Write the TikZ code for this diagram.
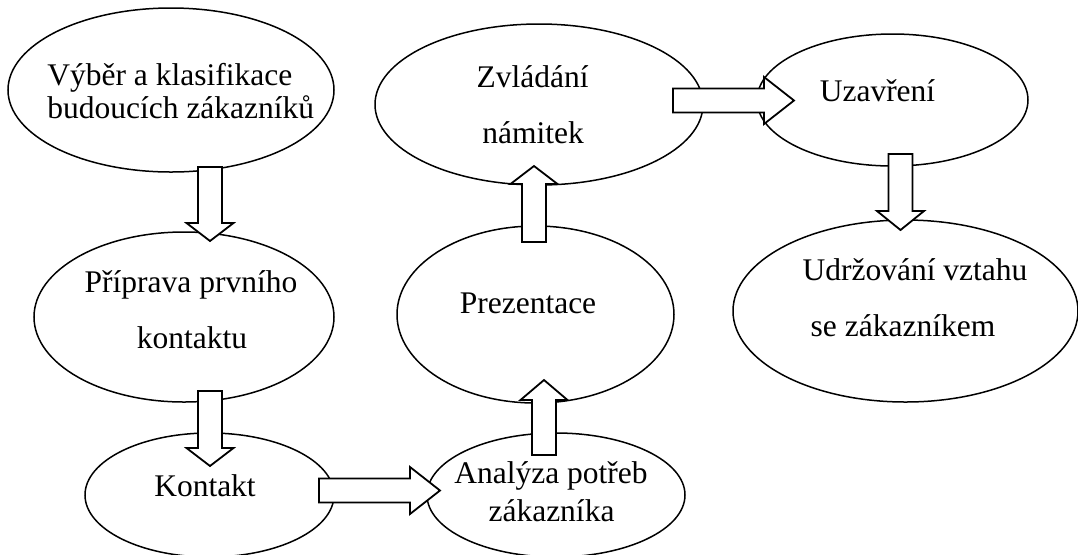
\documentclass[tikz,border=0pt]{standalone}
\usepackage{fontspec}
\setmainfont{Liberation Serif}
\usetikzlibrary{shapes.geometric,calc}

\tikzset{
  stage/.style={ellipse, draw, line width=0.75pt, inner sep=0pt},
  txt/.style={inner sep=0pt, font=\fontsize{15.75}{19}\selectfont},
  blockarr/.style={draw, fill=white, line width=0.9pt, line join=miter}
}

% block arrow from #2 to #3, head length #1
\newcommand\blockarrow[3][9pt]{%
  \coordinate (hb) at ($(#3)!#1!(#2)$);
  \draw[blockarr] ($(#2)!6pt!90:(#3)$) -- ($(hb)!6pt!90:(#3)$)
    -- ($(hb)!11.75pt!90:(#3)$) -- (#3) -- ($(hb)!11.75pt!-90:(#3)$)
    -- ($(hb)!6pt!-90:(#3)$) -- ($(#2)!6pt!-90:(#3)$) -- cycle;}

\begin{document}
\begin{tikzpicture}[x=0.5pt, y=-0.5pt] % 1 unit = 1 px of the 1078x554 sheet
\useasboundingbox (0,0) rectangle (1078,554);
\clip (0,0) rectangle (1078,554);

\node[stage, minimum width=163pt, minimum height=82pt] (vyber) at (171,90) {};
\node[stage, minimum width=150pt, minimum height=85pt] (priprava) at (184,317) {};
\node[stage, minimum width=124.5pt, minimum height=62pt] (kontakt) at (209.5,495) {};
\node[stage, minimum width=129pt, minimum height=62pt] (analyza) at (556,495) {};
\node[stage, minimum width=138.5pt, minimum height=88.5pt] (prezentace) at (535.5,314.5) {};
\node[stage, minimum width=164pt, minimum height=80.5pt] (zvladani) at (539,104.5) {};
\node[stage, minimum width=135.5pt, minimum height=66pt] (uzavreni) at (892.5,100) {};
\node[stage, minimum width=172.5pt, minimum height=91pt] (udrzovani) at (905.5,311) {};

    \coordinate (a1s) at (210,167); \coordinate (a1e) at (210,241);
    \coordinate (a2s) at (210,391); \coordinate (a2e) at (210,466);
    \coordinate (a3s) at (319,490.5); \coordinate (a3e) at (440,490.5);
    \coordinate (a4s) at (544,455); \coordinate (a4e) at (544,380);
    \coordinate (a5s) at (534,242); \coordinate (a5e) at (534,166);
    \coordinate (a6s) at (673,100.5); \coordinate (a6e) at (794,100.5);
    \coordinate (a7s) at (900.5,154); \coordinate (a7e) at (900.5,230);

    \blockarrow{a1s}{a1e}
    \blockarrow{a2s}{a2e}
    \blockarrow[15pt]{a3s}{a3e}
    \blockarrow[10pt]{a4s}{a4e}
    \blockarrow{a5s}{a5e}
    \blockarrow[15pt]{a6s}{a6e}
    \blockarrow[9.5pt]{a7s}{a7e}

\node[txt, anchor=base west] (vyber-1) at (47,85) {Výběr a klasifikace};
\node[txt, anchor=base west] (vyber-2) at (47,118) {budoucích zákazníků};
\node[txt, anchor=base] (priprava-1) at (191,292) {Příprava prvního};
\node[txt, anchor=base] (priprava-2) at (192,348) {kontaktu};
\node[txt, anchor=base] (kontakt-1) at (205,496) {Kontakt};
\node[txt, anchor=base] (analyza-1) at (551,483) {Analýza potřeb};
\node[txt, anchor=base] (analyza-2) at (551.5,521) {zákazníka};
\node[txt, anchor=base] (prezentace-1) at (528,313) {Prezentace};
\node[txt, anchor=base] (zvladani-1) at (532.5,87) {Zvládání};
\node[txt, anchor=base] (zvladani-2) at (533,143) {námitek};
\node[txt, anchor=base] (uzavreni-1) at (877.5,101) {Uzavření};
\node[txt, anchor=base] (udrzovani-1) at (915,280) {Udržování vztahu};
\node[txt, anchor=base] (udrzovani-2) at (903,336) {se zákazníkem};

\end{tikzpicture}
\end{document}
